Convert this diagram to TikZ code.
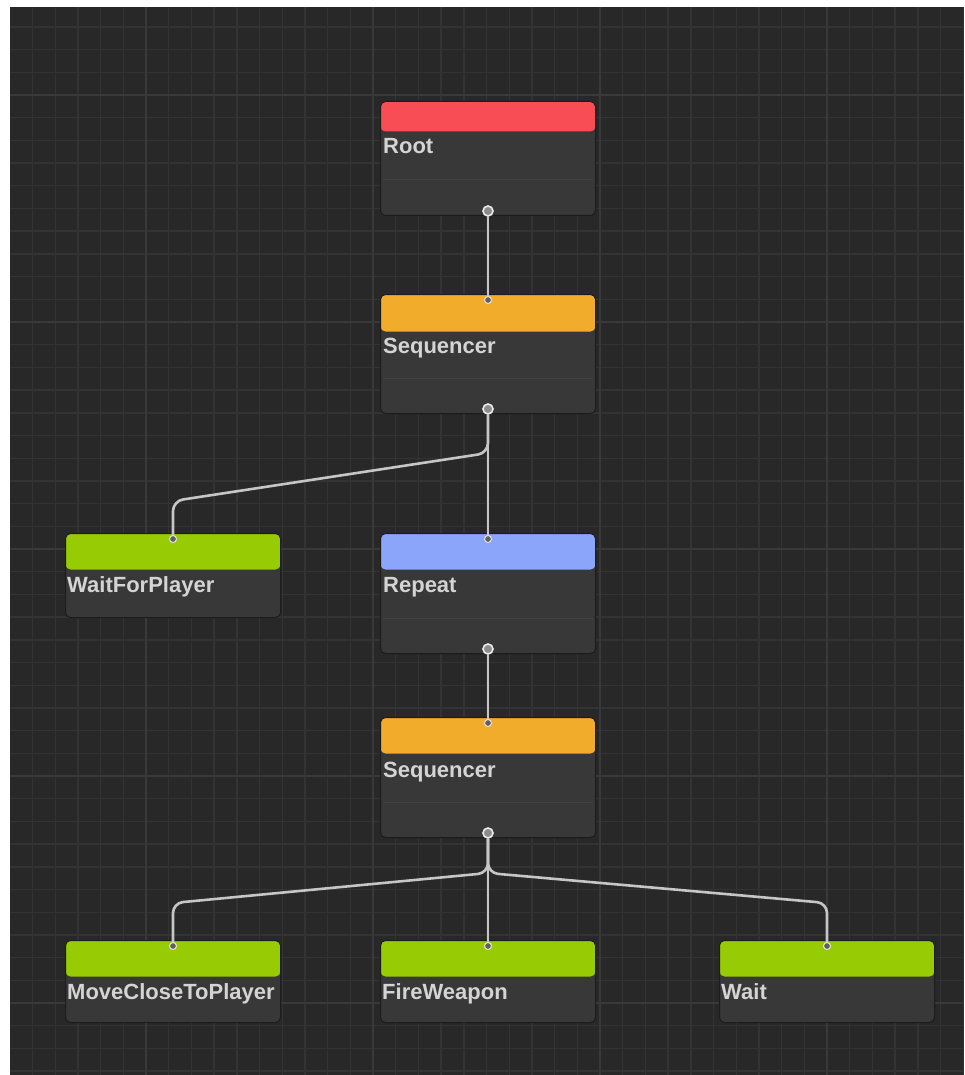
\documentclass[tikz,border=0pt]{standalone}
\usepackage{fontspec}
\setmainfont{Liberation Sans}
\usepackage{tikz}
\usetikzlibrary{calc,positioning}

\definecolor{canvas}{HTML}{282828}
\definecolor{gridMinor}{HTML}{333333}
\definecolor{gridMajor}{HTML}{393939}
\definecolor{bodyGray}{HTML}{383838}
\definecolor{sepGray}{HTML}{424242}
\definecolor{wireGray}{HTML}{C6C6C6}
\definecolor{labelGray}{HTML}{D4D4D4}
\definecolor{rootRed}{HTML}{F94D55}
\definecolor{seqOrange}{HTML}{F2AC2C}
\definecolor{repBlue}{HTML}{8BA5FA}
\definecolor{leafGreen}{HTML}{97CB04}

\tikzset{
  minorline/.style={gridMinor, line width=1.4pt},
  majorline/.style={gridMajor, line width=1.6pt},
  btnode/.style n args={3}{rectangle, rounded corners=5pt, draw=canvas!70!black, line width=1pt,
    fill=bodyGray, minimum width=215pt, minimum height=#3, inner sep=0pt, anchor=north west,
    path picture={\fill[#1] (path picture bounding box.north west) rectangle
      ([yshift=-#2]path picture bounding box.north east);}},
  lbl/.style={anchor=base west, text=labelGray, inner sep=0pt, font=\fontsize{22}{24}\selectfont\bfseries},
  inport/.style={circle, draw=white!90!black, fill=bodyGray!80!white, line width=1pt, minimum size=7pt, inner sep=0pt},
  outport/.style={circle, draw=white!92!black, fill=white!55!black, line width=1.6pt, minimum size=10pt, inner sep=0pt},
  wire/.style={wireGray, line width=2.6pt, rounded corners=10pt},
  sep/.style={sepGray, line width=1pt}
}

\begin{document}
\begin{tikzpicture}[x=1pt,y=-1pt]
\useasboundingbox (0,0) rectangle (964,1075);
\fill[white] (0,0) rectangle (964,1075);
\fill[canvas] (10,7) rectangle (964,1075);

% grid
\begin{scope}
\clip (10,7) rectangle (964,1075);
\foreach \k in {-5,...,36} \draw[minorline] ({146+22.7*\k},7) -- ++(0,1068);
\foreach \k in {-3,...,43} \draw[minorline] (10,{95+22.7*\k}) -- ++(954,0);
\foreach \k in {0,...,3} \draw[majorline] ({146+227*\k},7) -- ++(0,1068);
\foreach \k in {0,...,4} \draw[majorline] (10,{95+227*\k}) -- ++(954,0);
\end{scope}

% tree nodes
\node[btnode={rootRed}{30pt}{114pt}] (root) at (380,101) {};
\node[btnode={seqOrange}{37pt}{119pt}] (seqA) at (380,294) {};
\node[btnode={leafGreen}{36pt}{84pt}] (waitPlayer) at (65,533) {};
\node[btnode={repBlue}{36pt}{120pt}] (repeat) at (380,533) {};
\node[btnode={seqOrange}{36pt}{120pt}] (seqB) at (380,717) {};
\node[btnode={leafGreen}{36pt}{82pt}] (moveClose) at (65,940) {};
\node[btnode={leafGreen}{36pt}{82pt}] (fire) at (380,940) {};
\node[btnode={leafGreen}{36pt}{82pt}] (wait) at (719,940) {};

% separators above the output port
\foreach \n in {root,seqA,repeat,seqB}
  \draw[sep] ([shift={(3,-36)}]\n.south west) -- ([shift={(-3,-36)}]\n.south east);

% labels
\node[lbl] (rootLbl) at ([shift={(3,53)}]root.north west) {Root};
\node[lbl] (seqALbl) at ([shift={(3,59)}]seqA.north west) {Sequencer};
\node[lbl] (waitPlayerLbl) at ([shift={(2,59)}]waitPlayer.north west) {WaitForPlayer};
\node[lbl] (repeatLbl) at ([shift={(3,59)}]repeat.north west) {Repeat};
\node[lbl] (seqBLbl) at ([shift={(3,60)}]seqB.north west) {Sequencer};
\node[lbl] (moveCloseLbl) at ([shift={(2,59)}]moveClose.north west) {MoveCloseToPlayer};
\node[lbl] (fireLbl) at ([shift={(2,59)}]fire.north west) {FireWeapon};
\node[lbl] (waitLbl) at ([shift={(2,59)}]wait.north west) {Wait};

% ports
\node[outport] (rootOut) at ([shift={(0,-5)}]root.south) {};
\node[inport] (seqAIn) at ([shift={(0,6)}]seqA.north) {};
\node[outport] (seqAOut) at ([shift={(0,-5)}]seqA.south) {};
\node[inport] (waitPlayerIn) at ([shift={(0,6)}]waitPlayer.north) {};
\node[inport] (repeatIn) at ([shift={(0,6)}]repeat.north) {};
\node[outport] (repeatOut) at ([shift={(0,-5)}]repeat.south) {};
\node[inport] (seqBIn) at ([shift={(0,6)}]seqB.north) {};
\node[outport] (seqBOut) at ([shift={(0,-5)}]seqB.south) {};
\node[inport] (moveCloseIn) at ([shift={(0,6)}]moveClose.north) {};
\node[inport] (fireIn) at ([shift={(0,6)}]fire.north) {};
\node[inport] (waitIn) at ([shift={(0,6)}]wait.north) {};

% wires
\draw[wire] (rootOut) -- (seqAIn);
\draw[wire] (seqAOut) -- ([shift={(0,44)}]seqAOut.center) -- ([shift={(0,-38)}]waitPlayerIn.center) -- (waitPlayerIn);
\draw[wire] (seqAOut) -- (repeatIn);
\draw[wire] (repeatOut) -- (seqBIn);
\draw[wire] (seqBOut) -- ([shift={(0,40)}]seqBOut.center) -- ([shift={(0,-43)}]moveCloseIn.center) -- (moveCloseIn);
\draw[wire] (seqBOut) -- ([shift={(0,40)}]seqBOut.center) -- ([shift={(0,-43)}]waitIn.center) -- (waitIn);
\draw[wire] (seqBOut) -- (fireIn);
\end{tikzpicture}
\end{document}
